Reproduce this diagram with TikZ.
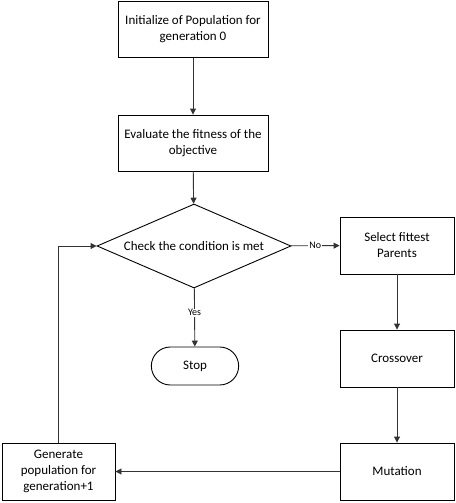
\documentclass[tikz,border=0pt]{standalone}
\usepackage{fontspec}
\setmainfont{Carlito}
\usetikzlibrary{arrows.meta,shapes.geometric,shapes.misc}
\tikzset{
  proc/.style={draw, line width=0.9pt, minimum width=150pt, minimum height=56pt, align=center, font=\fontsize{13}{16}\selectfont},
  sidebox/.style={draw, line width=0.9pt, minimum width=114pt, minimum height=57pt, align=center, font=\fontsize{13}{16}\selectfont},
  decide/.style={draw, diamond, line width=0.9pt, minimum width=194pt, minimum height=84pt, aspect=2.3, inner sep=0pt, font=\fontsize{13}{16}\selectfont},
  term/.style={draw, rounded rectangle, line width=0.9pt, minimum width=94pt, minimum height=38pt, font=\fontsize{13}{16}\selectfont},
  flow/.style={-{Triangle[length=6pt,width=6pt]}, line width=0.9pt, draw=black!80},
  tag/.style={font=\fontsize{10}{12}\selectfont, fill=white, inner sep=1pt}
}
\begin{document}
\begin{tikzpicture}[x=1pt,y=-1pt]
  \useasboundingbox (0,0) rectangle (455,503);
  \draw
    (193,29.5) node[proc] (init){Initialize of Population for\\generation 0}
    (193,143) node[proc] (eval){Evaluate the fitness of the\\objective}
    (194,246) node[decide] (check){Check the condition is met}
    (195,366) node[term] (stop){Stop}
    (397,245.5) node[sidebox] (select){Select fittest\\Parents}
    (397,358.5) node[sidebox] (cross){Crossover}
    (397,471.5) node[sidebox] (mut){Mutation}
    (58.5,471.5) node[sidebox, minimum width=113pt] (gen){Generate\\population for\\generation+1};
  \coordinate (corner) at (gen.north |- check.west);
  \begin{scope}[flow]
    \draw (init) to (eval);
    \draw (eval) to (check);
    \draw (check) to node[tag]{No} (select);
    \draw (check) to node[tag, pos=0.42]{Yes} (stop);
    \draw (select) to (cross);
    \draw (cross) to (mut);
    \draw (mut) to (gen);
    \draw (gen.north) -- (corner) -- (check.west);
  \end{scope}
\end{tikzpicture}
\end{document}
